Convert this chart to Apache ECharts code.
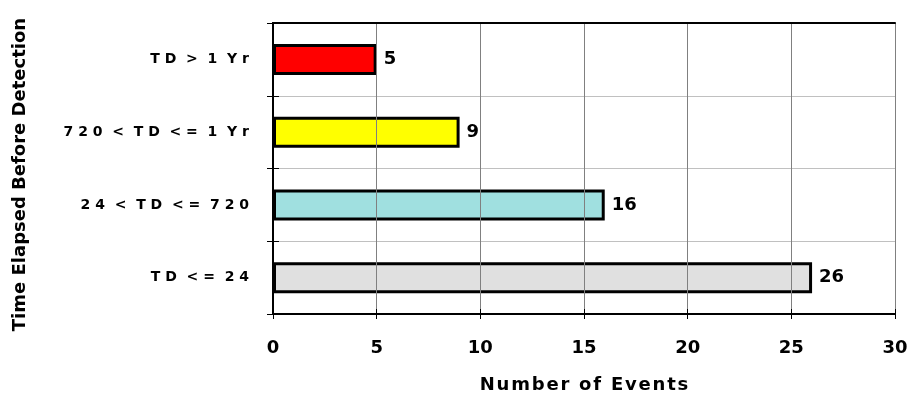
<!DOCTYPE html>
<html>
<head>
<meta charset="utf-8">
<script src="https://cdn.jsdelivr.net/npm/echarts@6/dist/echarts.min.js"></script>
<style>
html,body{margin:0;padding:0;background:#fff;}
#c{width:909px;height:394px;}
</style>
</head>
<body>
<div id="c"></div>
<script>
const categories = ['TD <= 24', '24 < TD <= 720', '720 < TD <= 1 Yr', 'TD > 1 Yr'];
const eventCounts = [26, 16, 9, 5];
const xTicks = [0, 5, 10, 15, 20, 25, 30];
const barColors = ['#e0e0e0', '#a0e0e0', '#ffff00', '#ff0000'];

function spaced(s, inner, outer) {
  return s.split(' ').map(w => w.split('').join(inner)).join(outer);
}

const chart = echarts.init(document.getElementById('c'), null, {renderer: 'canvas'});
const font = '"DejaVu Sans", sans-serif';
const HS = '\u200A';
const xMin = xTicks[0], xMax = xTicks[xTicks.length - 1];
const gridBox = {left: 273, right: 14, top: 23, bottom: 80, show: false, containLabel: false, outerBoundsMode: 'none'};
chart.setOption({
  animation: false,
  backgroundColor: '#fff',
  grid: [Object.assign({}, gridBox), Object.assign({}, gridBox)],
  xAxis: [{
    type: 'value', gridIndex: 0, min: xMin, max: xMax, interval: 5, position: 'bottom',
    name: spaced('Number of Events', HS, HS + ' ' + HS), nameLocation: 'middle', nameGap: 62,
    nameTextStyle: {fontFamily: font, fontWeight: 'bold', fontSize: 18, color: '#000'},
    axisLine: {show: true, lineStyle: {color: '#000', width: 2}},
    axisTick: {show: true, length: 5, lineStyle: {color: '#000', width: 1}},
    axisLabel: {margin: 25, fontFamily: font, fontWeight: 'bold', fontSize: 18, color: '#000'},
    splitLine: {show: true, lineStyle: {color: '#808080', width: 1}},
    z: 3
  }, {
    type: 'value', gridIndex: 0, min: xMin, max: xMax, interval: 5, position: 'top',
    axisLine: {show: true, lineStyle: {color: '#000', width: 2}},
    axisLabel: {show: false}, axisTick: {show: false}, splitLine: {show: false},
    z: 3
  }, {
    type: 'value', gridIndex: 1, min: xMin, max: xMax, interval: 5, position: 'bottom',
    axisLine: {show: false}, axisLabel: {show: false}, splitLine: {show: false},
    axisTick: {show: true, inside: true, length: 5, lineStyle: {color: '#000', width: 1}},
    z: 3
  }],
  yAxis: [{
    type: 'category', gridIndex: 0, data: categories, position: 'left',
    name: 'Time Elapsed Before Detection', nameLocation: 'middle', nameGap: 244, nameRotate: 90,
    nameTextStyle: {fontFamily: font, fontWeight: 'bold', fontSize: 18, color: '#000', padding: [0, 12, 0, 0]},
    axisLine: {show: true, lineStyle: {color: '#000', width: 2}},
    axisTick: {show: true, length: 6, lineStyle: {color: '#000', width: 1}},
    axisLabel: {margin: 24, fontFamily: font, fontWeight: 'bold', fontSize: 14, color: '#000',
      formatter: v => spaced(v, ' ', '  ')},
    splitLine: {show: true, lineStyle: {color: '#c0c0c0', width: 1}},
    z: 3
  }, {
    type: 'category', gridIndex: 0, data: categories, position: 'right',
    axisLine: {show: true, lineStyle: {color: '#000', width: 2}},
    axisLabel: {show: false}, axisTick: {show: false}, splitLine: {show: false},
    z: 3
  }, {
    type: 'category', gridIndex: 1, data: categories, position: 'left',
    axisLine: {show: false}, axisLabel: {show: false}, splitLine: {show: false},
    axisTick: {show: true, inside: true, length: 6, lineStyle: {color: '#000', width: 1}},
    z: 3
  }],
  series: [{
    type: 'bar', xAxisIndex: 0, yAxisIndex: 0, barWidth: 31,
    data: eventCounts.map((v, i) => ({value: v, itemStyle: {color: barColors[i]}})),
    itemStyle: {borderColor: '#000', borderWidth: 3},
    label: {show: true, position: 'right', distance: 7, fontFamily: font, fontWeight: 'bold', fontSize: 18, color: '#000'}
  }]
});
</script>
</body>
</html>
